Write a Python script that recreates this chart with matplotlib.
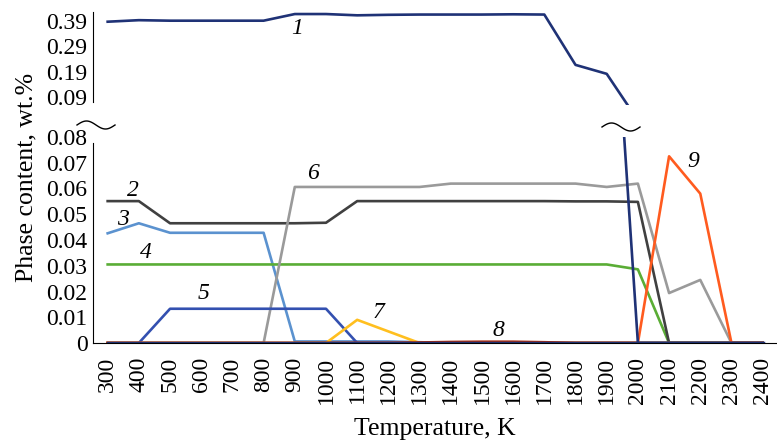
# Phase content vs temperature, broken y axis (two panels)

import numpy as np
from matplotlib import pyplot as plt
from matplotlib.lines import Line2D

plt.rcParams['font.family'] = ['Liberation Serif', 'DejaVu Serif']

temps = [300, 400, 500, 600, 700, 800, 900, 1000, 1100, 1200, 1300,
         1400, 1500, 1600, 1700, 1800, 1900, 2000, 2100, 2200, 2300, 2400]

phase1 = [0.386, 0.392, 0.390, 0.390, 0.390, 0.390, 0.416, 0.416, 0.411, 0.413, 0.414,
          0.414, 0.414, 0.415, 0.414, 0.217, 0.182, 0, 0, 0, 0, 0]
phase1_base = [0, 0, 0, 0, 0, 0, 0, 0, 0, 0, 0,
               0, 0, 0, 0, 0, 0, 0, 0, 0, 0, 0]
phase2 = [0.0551, 0.0551, 0.0465, 0.0465, 0.0465, 0.0465, 0.0465, 0.0467, 0.0551, 0.0551, 0.0551,
          0.0551, 0.0551, 0.0551, 0.0551, 0.0550, 0.0550, 0.0548, 0, 0, 0, 0]
phase3 = [0.0426, 0.0465, 0.0428, 0.0428, 0.0428, 0.0428, 0.0006, 0.0006, 0.0006, 0.0006, 0.0003,
          0, 0, 0, 0, 0, 0, 0, 0, 0, 0, 0]
phase4 = [0.0305, 0.0305, 0.0305, 0.0305, 0.0305, 0.0305, 0.0305, 0.0305, 0.0305, 0.0305, 0.0305,
          0.0305, 0.0305, 0.0305, 0.0305, 0.0305, 0.0305, 0.0286, 0, 0, 0, 0]
phase5 = [0, 0, 0.0133, 0.0133, 0.0133, 0.0133, 0.0133, 0.0133, 0, 0, 0,
          0, 0, 0, 0, 0, 0, 0, 0, 0, 0, 0]
phase6 = [0, 0, 0, 0, 0, 0, 0.0606, 0.0606, 0.0606, 0.0606, 0.0606,
          0.0619, 0.0619, 0.0619, 0.0619, 0.0619, 0.0606, 0.0619, 0.0194, 0.0245, 0, 0]
phase7 = [0, 0, 0, 0, 0, 0, 0, 0, 0.0090, 0.0045, 0,
          0, 0, 0, 0, 0, 0, 0, 0, 0, 0, 0]
phase8 = [0, 0, 0, 0, 0, 0, 0, 0, 0, 0, 0.0002,
          0.0004, 0.0005, 0.0005, 0.0003, 0, 0, 0, 0, 0, 0, 0]
phase9 = [0, 0, 0, 0, 0, 0, 0, 0, 0, 0, 0,
          0, 0, 0, 0, 0, 0, 0, 0.0725, 0.0580, 0, 0]

top_ticks = [0.09, 0.19, 0.29, 0.39]
bottom_ticks = [0, 0.01, 0.02, 0.03, 0.04, 0.05, 0.06, 0.07, 0.08]
bottom_labels = ['0', '0.01', '0.02', '0.03', '0.04', '0.05', '0.06', '0.07', '0.08']

NAVY = '#1f3276'
LW = 1.9
FS = 17

fig = plt.figure(figsize=(7.77, 4.42), dpi=100)
ax_top = fig.add_axes([93 / 777, 1 - 105 / 442, 684 / 777, 93 / 442])
ax_bot = fig.add_axes([93 / 777, 1 - 343 / 442, 684 / 777, 206 / 442])

xlim = (253, 2446)

# top panel: only phase 1
ax_top.plot(temps, phase1, color=NAVY, lw=LW)
ax_top.set_xlim(*xlim)
ax_top.set_ylim(0.06, 0.424)
ax_top.set_yticks(top_ticks)
ax_top.set_yticklabels(['%.2f' % t for t in top_ticks])
ax_top.set_xticks([])
for s in ['top', 'right', 'bottom']:
    ax_top.spines[s].set_visible(False)
ax_top.spines['left'].set_bounds(0.0716, 0.424)
ax_top.tick_params(axis='y', length=0, pad=4, labelsize=FS)
ax_top.text(907, 0.361, '1', fontsize=FS, style='italic', ha='center', va='center')

# bottom panel
ax_bot.plot(temps, phase3, color='#5b92cf', lw=LW)
ax_bot.plot(temps, phase4, color='#5aad35', lw=LW)
ax_bot.plot(temps, phase2, color='#404040', lw=LW)
ax_bot.plot(temps, phase6, color='#9a9a9a', lw=LW)
ax_bot.plot(temps, phase5, color='#3350b0', lw=LW)
ax_bot.plot(temps, phase7, color='#ffbf1f', lw=LW)
ax_bot.plot(temps, phase9, color='#ff5b1f', lw=LW)
ax_bot.plot(temps, phase8, color='#a52a10', lw=LW)
ax_bot.plot(temps, phase1_base, color=NAVY, lw=LW + 0.6)
ax_bot.plot(temps, phase1, color=NAVY, lw=LW)

ax_bot.set_xlim(*xlim)
ax_bot.set_ylim(0, 0.08)
ax_bot.set_yticks(bottom_ticks)
ax_bot.set_yticklabels(bottom_labels)
ax_bot.set_xticks(temps)
ax_bot.set_xticklabels([str(t) for t in temps], rotation=90)
for s in ['top', 'right']:
    ax_bot.spines[s].set_visible(False)
ax_bot.spines['left'].set_bounds(0, 0.0777)
ax_bot.tick_params(axis='y', length=0, pad=4, labelsize=FS)
ax_bot.tick_params(axis='x', length=0, pad=10, labelsize=FS)

labels = [('2', 382, 0.0594), ('3', 350, 0.048), ('4', 423, 0.0352), ('5', 606, 0.0191),
          ('6', 959, 0.066), ('7', 1167, 0.0117), ('8', 1552, 0.0047), ('9', 2177, 0.0703)]
for txt, x, y in labels:
    ax_bot.text(x, y, txt, fontsize=FS, style='italic', ha='center', va='center')

fig.text(435 / 777, 1 - 429 / 442, 'Temperature, K', fontsize=18.5, ha='center', va='center')
fig.text(26 / 777, 1 - 177 / 442, 'Phase content, wt.%', rotation=90,
         fontsize=18.5, ha='center', va='center')

# break marks (tilde)
t = np.linspace(-1, 1, 40)
for cx, cy in [(96, 125), (621, 127)]:
    xs = (cx + 19 * t) / 777
    ys = 1 - (cy - 4 * np.sin(np.pi * (t + 1))) / 442
    fig.add_artist(Line2D(xs, ys, color='black', lw=1.0))

fig.savefig('out.png', dpi=100)
